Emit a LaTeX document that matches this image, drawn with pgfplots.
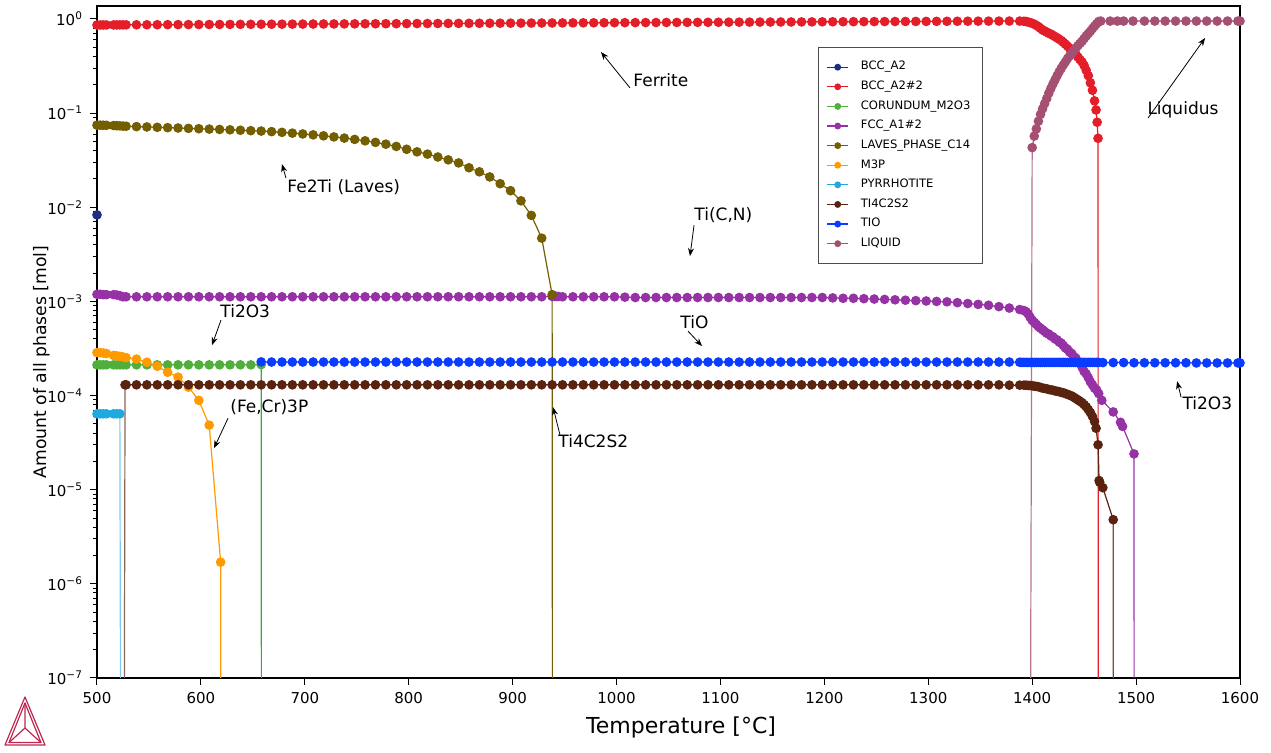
\documentclass[border=0pt]{standalone}
\usepackage{fontspec}
\setmainfont{DejaVu Sans}
\usepackage{pgfplots}
\pgfplotsset{compat=1.18}
\usetikzlibrary{arrows.meta}

\definecolor{cNavy}{RGB}{30,45,130}
\definecolor{cRed}{RGB}{228,30,40}
\definecolor{cGreen}{RGB}{80,175,60}
\definecolor{cPurple}{RGB}{150,50,165}
\definecolor{cOlive}{RGB}{115,95,0}
\definecolor{cOrange}{RGB}{255,155,0}
\definecolor{cCyan}{RGB}{30,170,225}
\definecolor{cBrown}{RGB}{90,35,15}
\definecolor{cBlue}{RGB}{10,60,255}
\definecolor{cLiq}{RGB}{165,80,115}
\definecolor{cLogo}{RGB}{190,40,80}

\pgfplotsset{
  ph/.style={color=#1, mark=*, mark size=2.1pt, line width=0.6pt},
  drop/.style={color=#1, line width=0.6pt, forget plot},
}

\begin{document}
\begin{tikzpicture}
\useasboundingbox (-48.5pt,-37.5pt) rectangle (587pt,339pt);
\begin{axis}[
  at={(0pt,0pt)}, anchor=south west,
  scale only axis, width=571.5pt, height=336pt,
  ymode=log, xmin=500, xmax=1600, ymin=1e-7, ymax=1.374,
  xtick={500,600,...,1600},
  ytick={1e-7,1e-6,1e-5,1e-4,1e-3,1e-2,1e-1,1},
  yticklabels={10\textsuperscript{−7},10\textsuperscript{−6},10\textsuperscript{−5},10\textsuperscript{−4},10\textsuperscript{−3},10\textsuperscript{−2},10\textsuperscript{−1},10\textsuperscript{0}},
  tick pos=left, tick align=outside,
  major tick length=3.5pt, minor tick length=2pt,
  every tick/.style={black, line width=0.5pt},
  /pgf/number format/assume math mode=true,
  /pgf/number format/1000 sep={},
  tick label style={font=\fontsize{7.5}{9}\selectfont},
  xlabel={Temperature [°C]}, ylabel={Amount of all phases [mol]},
  xlabel style={font=\fontsize{11}{13}\selectfont, at={(ticklabel cs:0.511)}},
  ylabel style={font=\fontsize{8.6}{10}\selectfont, at={(ticklabel cs:0.47)}},
  ylabel shift=-8pt,
  axis line style={line width=0.6pt},
  legend style={at={(0.631,0.939)}, anchor=north west, draw=black!70,
    fill=white, font=\fontsize{5.8}{7}\selectfont, row sep=0pt,
    inner xsep=4pt, inner ysep=5pt,
    /tikz/every odd column/.append style={column sep=4pt}},
  legend cell align=left,
  legend image code/.code={\draw[mark repeat=2,mark phase=2,mark size=1.4pt]
    plot coordinates {(0pt,0pt)(5.25pt,0pt)(10.5pt,0pt)};},
]

% BCC_A2
\addplot[ph=cNavy] coordinates {(500,0.0083)};
\addlegendentry{BCC\_A2}

% BCC_A2#2 (ferrite)
\addplot[ph=cRed] coordinates {
(500,0.863)(503,0.863)(506,0.864)(509,0.864)(516,0.865)(519,0.865)(522,0.865)(525,0.866)
(528,0.866)(538,0.867)(548,0.868)(558,0.869)(568,0.870)(578,0.871)(588,0.872)(598,0.873)(608,0.874)(618,0.875)
(628,0.876)(638,0.877)(648,0.878)(658,0.879)(668,0.880)(678,0.881)(688,0.882)(698,0.883)(708,0.884)(718,0.885)
(728,0.886)(738,0.887)(748,0.888)(758,0.889)(768,0.890)(778,0.891)(788,0.892)(798,0.893)(808,0.894)(818,0.895)
(828,0.896)(838,0.897)(848,0.898)(858,0.899)(868,0.900)(878,0.901)(888,0.902)(898,0.903)(908,0.904)(918,0.905)
(928,0.906)(938,0.907)(948,0.908)(958,0.909)(968,0.910)(978,0.911)(988,0.912)(998,0.913)(1008,0.914)(1018,0.915)
(1028,0.916)(1038,0.917)(1048,0.918)(1058,0.919)(1068,0.920)(1078,0.921)(1088,0.922)(1098,0.923)(1108,0.924)(1118,0.925)
(1128,0.926)(1138,0.927)(1148,0.928)(1158,0.929)(1168,0.930)(1178,0.931)(1188,0.932)(1198,0.933)(1208,0.934)(1218,0.935)
(1228,0.936)(1238,0.937)(1248,0.938)(1258,0.939)(1268,0.940)(1278,0.941)(1288,0.942)(1298,0.943)(1308,0.944)(1318,0.945)
(1328,0.946)(1338,0.947)(1348,0.948)(1358,0.949)(1368,0.950)(1378,0.951)(1388,0.950)
(1392,0.945)(1394,0.94)(1396,0.93)(1398,0.915)(1400,0.90)(1402,0.88)(1404,0.855)(1406,0.83)(1408,0.795)(1410,0.765)
(1412,0.745)(1414,0.725)(1416,0.705)(1418,0.69)(1420,0.67)(1422,0.65)(1424,0.63)(1426,0.61)(1428,0.59)(1430,0.565)
(1432,0.54)(1434,0.515)(1436,0.49)(1438,0.465)(1440,0.445)(1442,0.42)(1444,0.395)(1446,0.37)(1448,0.35)(1450,0.32)
(1452,0.285)(1454,0.25)(1456,0.21)(1458,0.175)(1460,0.135)(1461.5,0.108)(1462.5,0.08)(1463.4,0.054)};
\addlegendentry{BCC\_A2\#2}
\addplot[drop=cRed] coordinates {(1463.4,0.054)(1463.6,1e-9)};

% CORUNDUM_M2O3
\addplot[ph=cGreen] coordinates {
(500,2.12e-4)(503,2.12e-4)(506,2.12e-4)(509,2.12e-4)(516,2.12e-4)(519,2.12e-4)(522,2.12e-4)(525,2.12e-4)
(528,2.12e-4)(538,2.12e-4)(548,2.12e-4)(558,2.12e-4)(568,2.12e-4)(578,2.12e-4)(588,2.12e-4)(598,2.12e-4)
(608,2.12e-4)(618,2.12e-4)(628,2.12e-4)(638,2.12e-4)(648,2.12e-4)(658,2.13e-4)};
\addlegendentry{CORUNDUM\_M2O3}
\addplot[drop=cGreen!80!teal] coordinates {(658,2.13e-4)(658.3,1e-9)};

% FCC_A1#2
\addplot[ph=cPurple] coordinates {
(500,0.00119)(503,0.00119)(506,0.00118)(509,0.00118)(516,0.00118)(519,0.00117)(522,0.00115)(525,0.00112)
(528,0.00112)(538,0.00112)(548,0.00112)(558,0.00112)(568,0.00112)(578,0.00112)(588,0.00112)(598,0.00112)
(608,0.00112)(618,0.00112)(628,0.00112)(638,0.00112)(648,0.00112)(658,0.00112)(668,0.00112)(678,0.00112)
(688,0.00112)(698,0.00112)(708,0.00112)(718,0.00112)(728,0.00112)(738,0.00112)(748,0.00112)(758,0.00112)
(768,0.00112)(778,0.00112)(788,0.00112)(798,0.00112)(808,0.00112)(818,0.00112)(828,0.00112)(838,0.00112)
(848,0.00112)(858,0.00112)(868,0.00112)(878,0.00112)(888,0.00112)(898,0.00112)(908,0.00112)(918,0.00112)
(928,0.00112)(938,0.00113)(940,0.00113)(942,0.00113)(944,0.00113)(948,0.00112)(958,0.00112)(968,0.00112)
(978,0.00112)(988,0.00112)(998,0.00112)(1008,0.00111)(1018,0.0011)(1028,0.0011)(1038,0.0011)(1048,0.0011)
(1058,0.0011)(1068,0.0011)(1078,0.0011)(1088,0.0011)(1098,0.0011)(1108,0.0011)(1118,0.0011)(1128,0.0011)
(1138,0.0011)(1148,0.0011)(1158,0.0011)(1168,0.0011)(1178,0.0011)(1188,0.0011)(1198,0.0011)
(1208,0.00109)(1218,0.00108)(1228,0.00108)(1238,0.00107)(1248,0.00106)(1258,0.00105)(1268,0.00104)(1278,0.00103)
(1288,0.00102)(1298,0.00101)(1308,0.001)(1318,0.00099)(1328,0.00097)(1338,0.00095)(1348,0.00093)(1358,0.00091)
(1368,0.00088)(1378,0.00085)(1388,0.00082)
(1392,0.0008)(1394,0.00078)(1396,0.00074)(1398,0.00068)(1400,0.00063)(1402,0.0006)(1404,0.00057)(1406,0.00054)
(1408,0.00052)(1410,0.0005)(1412,0.00048)(1414,0.00046)(1416,0.00045)(1418,0.00043)(1420,0.00042)(1422,0.0004)
(1424,0.00039)(1426,0.00037)(1428,0.00036)(1430,0.00034)(1432,0.00032)(1434,0.00031)(1436,0.00029)(1438,0.00028)
(1440,0.00026)(1442,0.00025)(1444,0.00023)(1446,0.00022)(1448,0.0002)(1450,0.00018)(1452,0.00017)(1454,0.000155)
(1456,0.00014)(1458,0.00013)(1460,0.00012)(1462,0.000115)(1464,0.000105)(1467,0.000089)(1478,0.000067)
(1485,0.000052)(1487,0.000047)(1498,0.000024)};
\addlegendentry{FCC\_A1\#2}
\addplot[drop=cPurple] coordinates {(1498,2.4e-5)(1498.2,1e-9)};

% LAVES_PHASE_C14
\addplot[ph=cOlive] coordinates {
(500,0.0745)(503,0.0745)(506,0.0744)(509,0.0742)(516,0.0738)(519,0.0735)(522,0.0732)(525,0.0729)
(528,0.0726)(538,0.0719)(548,0.0713)(558,0.0707)(568,0.0701)(578,0.0695)(588,0.0689)(598,0.0683)
(608,0.0677)(618,0.0671)(628,0.0665)(638,0.0658)(648,0.0651)(658,0.0645)(668,0.0636)(678,0.0625)
(688,0.0613)(698,0.0601)(708,0.0588)(718,0.0574)(728,0.0559)(738,0.0543)(748,0.0526)(758,0.0508)
(768,0.0489)(778,0.0468)(788,0.0443)(798,0.0413)(808,0.0388)(818,0.0367)(828,0.0342)(838,0.0319)
(848,0.0296)(858,0.0263)(868,0.0238)(878,0.0210)(888,0.0178)(898,0.0150)(908,0.0117)(918,0.0082)
(928,0.0047)(938,0.00118)};
\addlegendentry{LAVES\_PHASE\_C14}
\addplot[drop=cOlive] coordinates {(938,0.00118)(938.4,1e-9)};

% M3P
\addplot[ph=cOrange] coordinates {
(500,2.86e-4)(503,2.85e-4)(506,2.83e-4)(509,2.8e-4)(516,2.67e-4)(519,2.64e-4)(522,2.61e-4)(525,2.57e-4)
(528,2.53e-4)(538,2.44e-4)(548,2.26e-4)(558,2.05e-4)(568,1.77e-4)(578,1.57e-4)(588,1.23e-4)(598,8.9e-5)
(608,4.85e-5)(619,1.7e-6)};
\addlegendentry{M3P}
\addplot[drop=cOrange] coordinates {(619,1.7e-6)(619.2,1e-9)};

% PYRRHOTITE
\addplot[ph=cCyan] coordinates {
(500,6.4e-5)(503,6.4e-5)(506,6.4e-5)(509,6.4e-5)(516,6.4e-5)(519,6.4e-5)(522,6.4e-5)};
\addlegendentry{PYRRHOTITE}
\addplot[drop=cCyan!60] coordinates {(522,6.4e-5)(523,1e-9)};

% TI4C2S2
\addplot[drop=cBrown!70] coordinates {(526,1e-9)(527,1.3e-4)};
\addplot[ph=cBrown] coordinates {
(527,1.3e-4)(528,1.3e-4)(538,1.3e-4)(548,1.3e-4)(558,1.3e-4)(568,1.3e-4)(578,1.3e-4)(588,1.3e-4)(598,1.3e-4)
(608,1.3e-4)(618,1.3e-4)(628,1.3e-4)(638,1.3e-4)(648,1.3e-4)(658,1.3e-4)(668,1.3e-4)(678,1.3e-4)(688,1.3e-4)
(698,1.3e-4)(708,1.3e-4)(718,1.3e-4)(728,1.3e-4)(738,1.3e-4)(748,1.3e-4)(758,1.3e-4)(768,1.3e-4)(778,1.3e-4)
(788,1.3e-4)(798,1.3e-4)(808,1.3e-4)(818,1.3e-4)(828,1.3e-4)(838,1.3e-4)(848,1.3e-4)(858,1.3e-4)(868,1.3e-4)
(878,1.3e-4)(888,1.3e-4)(898,1.3e-4)(908,1.3e-4)(918,1.3e-4)(928,1.3e-4)(938,1.3e-4)(948,1.3e-4)(958,1.3e-4)
(968,1.3e-4)(978,1.3e-4)(988,1.3e-4)(998,1.3e-4)(1008,1.3e-4)(1018,1.3e-4)(1028,1.3e-4)(1038,1.3e-4)(1048,1.3e-4)
(1058,1.3e-4)(1068,1.3e-4)(1078,1.3e-4)(1088,1.3e-4)(1098,1.3e-4)(1108,1.3e-4)(1118,1.3e-4)(1128,1.3e-4)(1138,1.3e-4)
(1148,1.3e-4)(1158,1.3e-4)(1168,1.3e-4)(1178,1.3e-4)(1188,1.3e-4)(1198,1.3e-4)(1208,1.3e-4)(1218,1.3e-4)(1228,1.3e-4)
(1238,1.3e-4)(1248,1.3e-4)(1258,1.3e-4)(1268,1.3e-4)(1278,1.3e-4)(1288,1.3e-4)(1298,1.3e-4)(1308,1.3e-4)(1318,1.3e-4)
(1328,1.3e-4)(1338,1.3e-4)(1348,1.3e-4)(1358,1.3e-4)(1368,1.3e-4)(1378,1.29e-4)(1388,1.29e-4)
(1392,1.29e-4)(1394,1.29e-4)(1396,1.28e-4)(1398,1.28e-4)(1400,1.27e-4)(1402,1.26e-4)(1404,1.25e-4)(1406,1.24e-4)
(1408,1.22e-4)(1410,1.2e-4)(1412,1.19e-4)(1414,1.18e-4)(1416,1.16e-4)(1418,1.15e-4)(1420,1.14e-4)(1422,1.12e-4)
(1424,1.11e-4)(1426,1.1e-4)(1428,1.08e-4)(1430,1.07e-4)(1432,1.05e-4)(1434,1.03e-4)(1436,1.01e-4)(1438,9.9e-5)
(1440,9.6e-5)(1442,9.3e-5)(1444,9.0e-5)(1446,8.7e-5)(1448,8.4e-5)(1450,8.0e-5)(1452,7.6e-5)(1454,7.1e-5)
(1456,6.6e-5)(1458,6.0e-5)(1460,5.3e-5)(1461.5,4.5e-5)(1463.4,3.0e-5)(1464.4,1.25e-5)(1465,1.2e-5)(1468,1.05e-5)
(1478,4.8e-6)};
\addlegendentry{TI4C2S2}
\addplot[drop=cBrown!80] coordinates {(1478,4.8e-6)(1478.2,1e-9)};

% TIO
\addplot[ph=cBlue] coordinates {
(658,2.28e-4)(668,2.27e-4)(678,2.27e-4)(688,2.27e-4)(698,2.27e-4)(708,2.27e-4)(718,2.27e-4)(728,2.27e-4)(738,2.27e-4)
(748,2.27e-4)(758,2.27e-4)(768,2.27e-4)(778,2.27e-4)(788,2.27e-4)(798,2.27e-4)(808,2.27e-4)(818,2.27e-4)(828,2.27e-4)
(838,2.27e-4)(848,2.27e-4)(858,2.27e-4)(868,2.27e-4)(878,2.27e-4)(888,2.27e-4)(898,2.27e-4)(908,2.27e-4)(918,2.27e-4)
(928,2.27e-4)(938,2.27e-4)(948,2.27e-4)(958,2.27e-4)(968,2.27e-4)(978,2.27e-4)(988,2.27e-4)(998,2.27e-4)(1008,2.27e-4)
(1018,2.27e-4)(1028,2.27e-4)(1038,2.27e-4)(1048,2.27e-4)(1058,2.27e-4)(1068,2.27e-4)(1078,2.27e-4)(1088,2.27e-4)
(1098,2.27e-4)(1108,2.27e-4)(1118,2.27e-4)(1128,2.27e-4)(1138,2.27e-4)(1148,2.27e-4)(1158,2.27e-4)(1168,2.27e-4)
(1178,2.27e-4)(1188,2.27e-4)(1198,2.27e-4)(1208,2.27e-4)(1218,2.27e-4)(1228,2.27e-4)(1238,2.27e-4)(1248,2.27e-4)
(1258,2.27e-4)(1268,2.27e-4)(1278,2.27e-4)(1288,2.27e-4)(1298,2.27e-4)(1308,2.27e-4)(1318,2.27e-4)(1328,2.27e-4)
(1338,2.27e-4)(1348,2.27e-4)(1358,2.27e-4)(1368,2.27e-4)(1378,2.27e-4)(1388,2.26e-4)
(1390,2.25e-4)(1392,2.25e-4)(1394,2.25e-4)(1396,2.25e-4)(1398,2.25e-4)(1400,2.25e-4)(1402,2.25e-4)(1404,2.25e-4)
(1406,2.25e-4)(1408,2.25e-4)(1410,2.25e-4)(1412,2.25e-4)(1414,2.25e-4)(1416,2.25e-4)(1418,2.25e-4)(1420,2.25e-4)
(1422,2.25e-4)(1424,2.25e-4)(1426,2.25e-4)(1428,2.25e-4)(1430,2.25e-4)(1432,2.25e-4)(1434,2.25e-4)(1436,2.25e-4)
(1438,2.25e-4)(1440,2.25e-4)(1442,2.25e-4)(1444,2.25e-4)(1446,2.25e-4)(1448,2.25e-4)(1450,2.25e-4)(1452,2.25e-4)
(1454,2.25e-4)(1456,2.25e-4)(1458,2.25e-4)(1460,2.25e-4)(1462,2.25e-4)(1464,2.25e-4)
(1468,2.24e-4)(1478,2.24e-4)(1488,2.24e-4)(1498,2.23e-4)(1508,2.23e-4)(1518,2.23e-4)(1528,2.23e-4)(1538,2.23e-4)
(1548,2.23e-4)(1558,2.22e-4)(1568,2.22e-4)(1578,2.22e-4)(1588,2.22e-4)(1598,2.22e-4)(1600,2.22e-4)};
\addlegendentry{TIO}

% LIQUID
\addplot[drop=cLiq!80] coordinates {(1398,1e-9)(1400,0.043)};
\addplot[ph=cLiq] coordinates {
(1400,0.043)(1402,0.057)(1404,0.068)(1406,0.082)(1408,0.097)(1410,0.111)(1412,0.126)(1414,0.143)(1416,0.163)
(1418,0.183)(1420,0.204)(1422,0.226)(1424,0.25)(1426,0.275)(1428,0.30)(1430,0.325)(1432,0.35)(1434,0.38)
(1436,0.405)(1438,0.43)(1440,0.46)(1442,0.49)(1444,0.52)(1446,0.55)(1448,0.58)(1450,0.62)(1452,0.66)
(1454,0.70)(1456,0.74)(1458,0.79)(1460,0.84)(1462,0.89)(1464,0.94)(1466,0.95)(1475,0.95)(1482,0.95)
(1488,0.95)(1497,0.95)(1508,0.95)(1518,0.95)(1528,0.95)(1538,0.95)(1548,0.95)(1558,0.95)(1568,0.95)
(1578,0.95)(1588,0.95)(1598,0.95)(1600,0.95)};
\addlegendentry{LIQUID}

% annotations
\tikzset{lab/.style={anchor=west, inner sep=0pt, font=\fontsize{8.5}{10}\selectfont},
         arr/.style={-{Stealth[length=4pt,width=3pt]}, line width=0.4pt, black}}
\node[lab] at (axis cs:1015.9,0.225) {Ferrite};
\draw[arr] (axis cs:1013,0.185) -- (axis cs:985,0.446);
\node[lab] at (axis cs:1510.6,0.108) {Liquidus};
\draw[arr] (axis cs:1511.5,0.0887) -- (axis cs:1566.4,0.628);
\node[lab] at (axis cs:682.9,0.0164) {Fe2Ti (Laves)};
\draw[arr] (axis cs:681.9,0.0204) -- (axis cs:678,0.0288);
\node[lab] at (axis cs:1074.6,0.00826) {Ti(C,N)};
\draw[arr] (axis cs:1074.6,0.00647) -- (axis cs:1070.7,0.00303);
\node[lab] at (axis cs:618.4,7.88e-4) {Ti2O3};
\draw[arr] (axis cs:619.3,6.33e-4) -- (axis cs:610.7,3.43e-4);
\node[lab] at (axis cs:1061.1,6.03e-4) {TiO};
\draw[arr] (axis cs:1068.8,4.83e-4) -- (axis cs:1082.3,3.35e-4);
\node[lab] at (axis cs:628,7.53e-5) {(Fe,Cr)3P};
\draw[arr] (axis cs:626.1,5.75e-5) -- (axis cs:612.6,2.76e-5);
\node[lab] at (axis cs:943.7,3.28e-5) {Ti4C2S2};
\draw[arr] (axis cs:945.6,3.8e-5) -- (axis cs:938.9,7.53e-5);
\node[lab] at (axis cs:1544.3,8.3e-5) {Ti2O3};
\draw[arr] (axis cs:1543.3,9.6e-5) -- (axis cs:1539.5,1.42e-4);
\end{axis}

% logo
\begin{scope}[cLogo, line width=0.6pt, line join=round]
\draw (-46pt,-33.5pt) -- (-36pt,-9.5pt) -- (-26pt,-33.5pt) -- cycle;
\draw (-44pt,-32.3pt) -- (-36pt,-12.5pt) -- (-28pt,-32.3pt) -- cycle;
\draw (-36pt,-12.5pt) -- (-36pt,-25pt) -- (-44pt,-32.3pt);
\draw (-36pt,-25pt) -- (-28pt,-32.3pt);
\end{scope}
\end{tikzpicture}
\end{document}
